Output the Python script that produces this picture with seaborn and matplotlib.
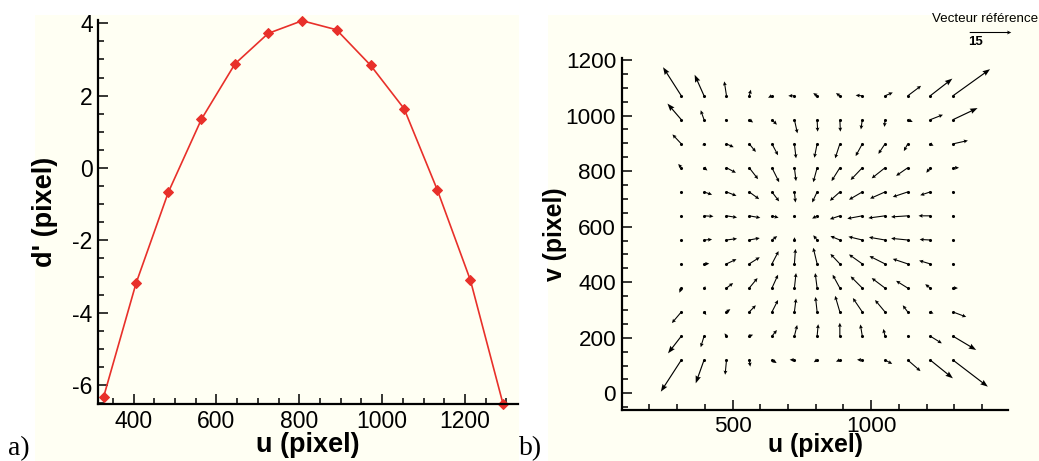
import numpy as np
import matplotlib
matplotlib.use("Agg")
import matplotlib.pyplot as plt
from matplotlib.ticker import MultipleLocator
from matplotlib.patches import Rectangle
import seaborn as sns

sns.set_style("ticks")
plt.rcParams["font.family"] = ["Liberation Sans", "DejaVu Sans"]
plt.rcParams["axes.unicode_minus"] = False
for key in ("text.color", "axes.labelcolor", "xtick.color", "ytick.color",
            "xtick.labelcolor", "ytick.labelcolor"):
    plt.rcParams[key] = "black"

# ---- panel a) : d' along u ----
u_a = [328, 406, 484, 564, 645, 725, 807, 890, 972, 1053, 1133, 1213, 1292]
d_a = [-6.32, -3.19, -0.67, 1.35, 2.88, 3.72, 4.07, 3.82, 2.84, 1.64, -0.60, -3.10, -6.53]

# ---- panel b) : displacement field (pixel), rows from bottom to top ----
u_grid = [315, 397, 478, 560, 642, 723, 805, 887, 968, 1050, 1132, 1213, 1295]
v_grid = [120, 206, 293, 379, 466, 552, 639, 725, 812, 898, 985, 1071]

du = [
    [-7.4, -3.0, -0.5, 0.4, 1.7, -1.7, -1.2, -1.4, -1.9, 2.6, 4.6, 8.2, 12.6],
    [-4.8, -1.2, -0.7, 1.4, 1.8, 1.0, 0.4, 0.0, -0.7, -0.6, 0.0, 4.2, 8.4],
    [-3.4, 0.8, 1.4, 2.4, 2.2, 0.6, -0.6, -1.7, -3.4, -3.6, -1.8, 1.2, 4.8],
    [-0.7, 0.6, 2.4, 3.0, 2.2, 0.6, -0.7, -2.6, -4.2, -4.8, -4.2, -1.8, 1.8],
    [0.0, 1.9, 3.6, 3.8, 2.4, 0.4, -1.4, -3.4, -4.8, -5.6, -5.4, -4.0, 0.0],
    [0.0, 2.9, 3.8, 3.8, 1.9, 0.1, -1.4, -3.4, -5.0, -5.8, -6.0, -3.8, 0.0],
    [0.0, 3.4, 3.8, 4.0, 2.4, 0.4, -1.8, -3.6, -5.4, -6.0, -6.0, -4.2, 0.0],
    [0.0, 2.9, 3.6, 3.6, 2.6, 0.4, -1.8, -3.6, -4.8, -5.4, -5.4, -3.6, 0.0],
    [-1.1, 1.2, 3.4, 3.2, 2.6, 0.6, -1.4, -3.0, -4.2, -4.8, -4.2, -1.4, 2.2],
    [-3.2, -0.6, 2.6, 2.4, 2.2, 0.6, -1.0, -1.7, -2.4, -2.4, -1.4, 1.2, 5.4],
    [-5.0, -1.2, -0.6, 1.4, 1.8, 1.1, 0.2, 0.2, -0.5, -0.2, 1.8, 4.6, 8.9],
    [-6.6, -3.4, -0.8, 0.6, -1.4, -2.2, -1.4, -1.4, -2.4, 2.8, 4.8, 8.0, 13.4],
]
dv = [
    [-11.4, -8.4, -5.3, -2.4, -1.1, 0.1, -0.8, -0.6, 0.1, -1.4, -4.0, -6.6, -9.6],
    [-6.2, -4.0, 1.0, 0.5, 2.2, 4.0, 4.3, 4.8, 4.2, 2.6, 0.0, -2.6, -5.0],
    [-4.0, -1.1, 1.0, 2.4, 4.3, 4.8, 5.4, 5.8, 5.0, 4.3, 2.4, -0.6, -1.8],
    [-1.7, 0.6, 1.8, 3.6, 4.8, 5.4, 5.4, 4.8, 4.2, 3.6, 2.6, 1.4, 0.0],
    [0.0, 0.1, 1.7, 2.4, 4.6, 5.4, 5.8, 3.6, 3.4, 2.8, 1.8, 1.2, 0.0],
    [0.0, 0.2, 0.5, 0.7, 1.4, 1.0, 1.7, 1.4, 1.2, 1.0, 0.6, 0.2, 0.0],
    [0.0, -0.2, -0.6, -0.7, -0.7, -0.6, -1.0, -1.2, -1.0, -0.8, -0.4, 0.0, 0.0],
    [0.0, -1.0, -1.4, -2.6, -3.4, -3.8, -3.8, -3.2, -2.8, -2.4, -1.8, -1.2, 0.0],
    [1.4, -1.0, -1.8, -4.1, -5.2, -4.8, -5.2, -4.8, -4.4, -3.8, -2.9, -1.8, 0.0],
    [3.4, -0.6, -1.2, -2.9, -4.1, -5.2, -5.0, -5.2, -4.4, -3.6, -2.6, -0.7, 1.2],
    [5.8, 3.4, -0.5, -1.0, -1.8, -4.9, -4.3, -4.3, -3.5, -2.6, -0.8, 1.8, 4.2],
    [10.3, 7.6, 5.2, 2.2, -0.7, 0.0, 1.0, 1.0, 0.2, 1.2, 3.6, 6.2, 9.6],
]
ref_value = 15

cream = "#FFFFF3"
red = "#E8302A"

fig = plt.figure(figsize=(10.39, 4.61), dpi=100)
fig.patch.set_facecolor("white")
fig.add_artist(Rectangle((0.0337, 0), 0.4658, 0.9675, transform=fig.transFigure,
                         facecolor=cream, edgecolor="none", zorder=-1))
fig.add_artist(Rectangle((0.5274, 0), 0.4726, 0.9675, transform=fig.transFigure,
                         facecolor=cream, edgecolor="none", zorder=-1))

ax1 = fig.add_axes([0.0946, 0.1230, 0.4040, 0.8336])
ax2 = fig.add_axes([0.5984, 0.1106, 0.3721, 0.7629])

for ax in (ax1, ax2):
    ax.set_facecolor("none")
    for s in ("top", "right"):
        ax.spines[s].set_visible(False)
    for s in ("left", "bottom"):
        ax.spines[s].set_linewidth(1.6)
        ax.spines[s].set_color("black")
    ax.tick_params(which="both", direction="in", width=1.1, color="black",
                   labelcolor="black", labelsize=16.5, pad=4)
    ax.tick_params(which="major", length=7)
    ax.tick_params(which="minor", length=4)

# ---- a) ----
sns.lineplot(x=u_a, y=d_a, ax=ax1, color=red, linewidth=1.2, marker="D",
             markersize=5, markeredgecolor=red, clip_on=False)
ax1.set_xlim(315, 1328)
ax1.set_ylim(-6.53, 4.09)
ax1.xaxis.set_major_locator(MultipleLocator(200))
ax1.xaxis.set_minor_locator(MultipleLocator(50))
ax1.yaxis.set_major_locator(MultipleLocator(2))
ax1.yaxis.set_minor_locator(MultipleLocator(0.5))
ax1.set_xlabel("u (pixel)", fontsize=19.5, fontweight="bold", color="black")
ax1.set_ylabel("d' (pixel)", fontsize=19.5, fontweight="bold", color="black")
ax1.xaxis.set_label_coords(0.5, -0.072)
ax1.yaxis.set_label_coords(-0.096, 0.5)

# ---- b) ----
X, Y = np.meshgrid(u_grid, v_grid)
U = np.array(du)
V = np.array(dv)
big = np.hypot(U, V) > 7

sns.scatterplot(x=X.ravel(), y=Y.ravel(), ax=ax2, s=5, color="black",
                linewidth=0, zorder=3)
q_small = ax2.quiver(X[~big], Y[~big], U[~big], V[~big], angles="xy",
                     scale_units="xy", scale=0.1, width=0.0028, headwidth=3.6,
                     headlength=3.8, headaxislength=3.3, color="black", zorder=4)
ax2.quiver(X[big], Y[big], U[big], V[big], angles="xy", scale_units="xy",
           scale=0.1, width=0.0030, headwidth=4.8, headlength=6.5,
           headaxislength=5.8, color="black", zorder=4)
ax2.quiverkey(q_small, 0.9524, 0.9312, ref_value, "", coordinates="figure",
              labelpos="S", color="black")
fig.text(0.948, 0.959, "Vecteur référence", fontsize=9.6, ha="center", va="center")
fig.text(0.9393, 0.909, str(ref_value), fontsize=9.5, fontweight="bold",
         ha="center", va="center")

ax2.set_xlim(100, 1495)
ax2.set_ylim(-60, 1206)
ax2.xaxis.set_major_locator(MultipleLocator(500))
ax2.xaxis.set_minor_locator(MultipleLocator(100))
ax2.yaxis.set_major_locator(MultipleLocator(200))
ax2.yaxis.set_minor_locator(MultipleLocator(50))
ax2.tick_params(labelsize=16.2)
ax2.set_xlabel("u (pixel)", fontsize=17.8, fontweight="bold", color="black")
ax2.set_ylabel("v (pixel)", fontsize=17.8, fontweight="bold", color="black")
ax2.xaxis.set_label_coords(0.5, -0.065)
ax2.yaxis.set_label_coords(-0.142, 0.5)

fig.text(8 / 1039, 1 - 455 / 461, "a)", family=["Liberation Serif", "DejaVu Serif"],
         fontsize=20, va="baseline", ha="left")
fig.text(519 / 1039, 1 - 455 / 461, "b)", family=["Liberation Serif", "DejaVu Serif"],
         fontsize=20, va="baseline", ha="left")

fig.savefig("out.png", dpi=100)
